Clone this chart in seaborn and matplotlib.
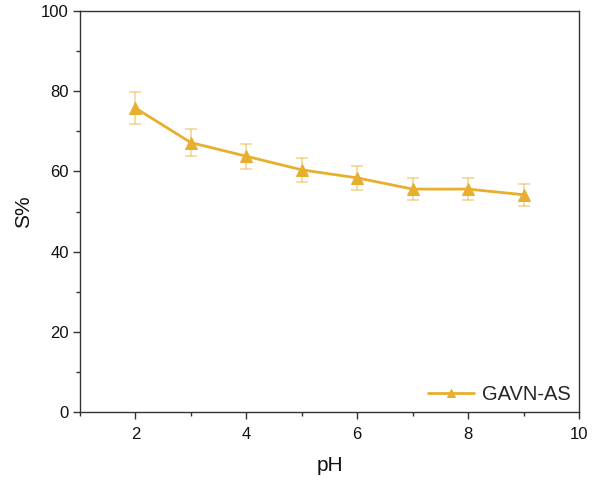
import pandas as pd
import matplotlib
matplotlib.use('Agg')
import matplotlib.pyplot as plt
import seaborn as sns
from matplotlib.ticker import MultipleLocator

ph      = [2, 3, 4, 5, 6, 7, 8, 9]
s_pct   = [75.8, 67.2, 63.8, 60.4, 58.4, 55.6, 55.6, 54.2]
s_err   = [3.9, 3.4, 3.1, 3.0, 3.0, 2.8, 2.8, 2.7]
label   = 'GAVN-AS'
color   = '#E8AF2E'

df = pd.DataFrame({'pH': ph, 'S%': s_pct, 'err': s_err})

sns.set_style('ticks')
plt.rcParams['font.family'] = ['Liberation Sans', 'DejaVu Sans']

fig = plt.figure(figsize=(6.03, 4.83), dpi=100)
ax = fig.add_axes([0.1327, 0.147, 0.8275, 0.83])

ax.errorbar(df['pH'], df['S%'], yerr=df['err'], fmt='none',
            ecolor=color, alpha=0.5, elinewidth=1.2, capsize=4, capthick=1.2, zorder=2)
sns.lineplot(data=df, x='pH', y='S%', ax=ax, color=color, marker='^',
             markersize=9, markeredgecolor=color, linewidth=2, label=label, zorder=3)

ax.set_xlim(1, 10)
ax.set_ylim(0, 100)
ax.xaxis.set_major_locator(MultipleLocator(2))
ax.xaxis.set_minor_locator(MultipleLocator(1))
ax.yaxis.set_major_locator(MultipleLocator(20))
ax.yaxis.set_minor_locator(MultipleLocator(10))
ax.tick_params(which='major', direction='out', length=5, width=1, labelsize=12,
               color='#333333', labelcolor='#111111')
ax.tick_params(axis='x', which='major', pad=6)
ax.tick_params(axis='y', which='major', pad=3)
ax.tick_params(which='minor', direction='out', length=3, width=1, color='#333333')

for s in ax.spines.values():
    s.set_linewidth(1)
    s.set_color('#333333')

ax.set_xlabel('pH', fontsize=15, labelpad=10, color='#111111')
ax.set_ylabel('S%', fontsize=15, labelpad=6, color='#111111')

ax.legend(loc='lower right', frameon=False, fontsize=14.5, handlelength=2.3,
          markerscale=0.7, borderaxespad=0.0, handletextpad=0.4)

plt.savefig('out.png', dpi=100)
plt.close()
